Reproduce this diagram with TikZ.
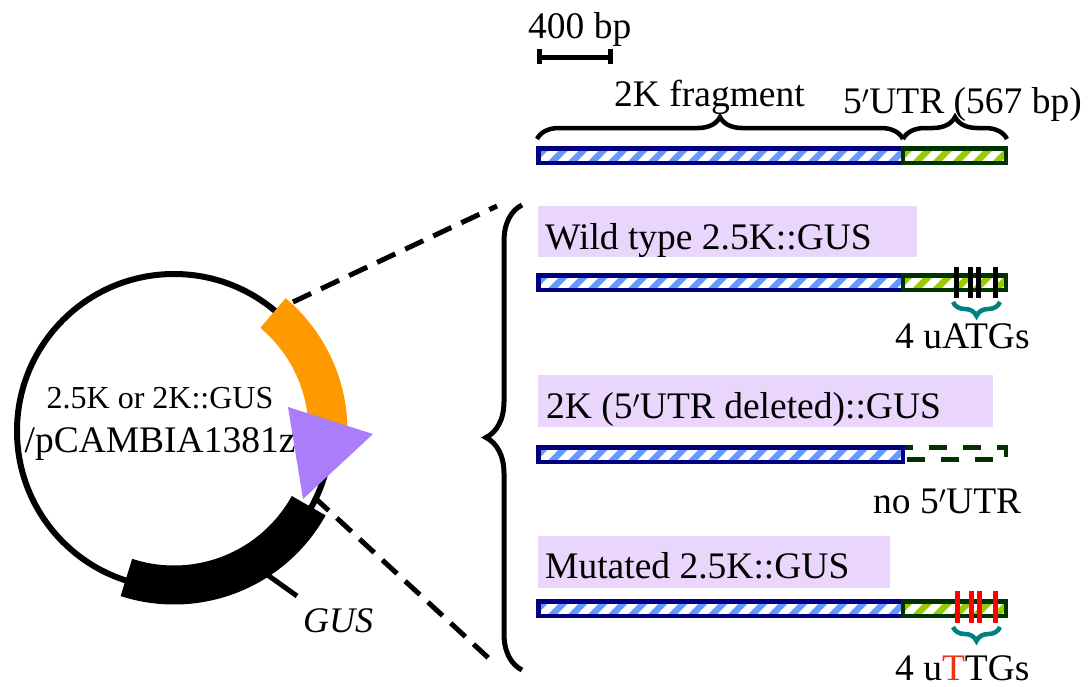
\documentclass[tikz,border=0pt]{standalone}
\usepackage{fontspec}
\setmainfont{Liberation Serif}
\usetikzlibrary{decorations.pathreplacing}

\definecolor{navyB}{RGB}{0,0,128}
\definecolor{stripeB}{RGB}{102,153,255}
\definecolor{darkG}{RGB}{0,51,0}
\definecolor{stripeG}{RGB}{153,204,0}
\definecolor{plasOrange}{RGB}{255,153,0}
\definecolor{plasPurple}{RGB}{170,125,250}
\definecolor{lavender}{RGB}{234,214,252}
\definecolor{braceTeal}{RGB}{0,128,128}
\definecolor{mutRed}{RGB}{255,0,0}
\definecolor{letterRed}{RGB}{240,50,20}

% prime mark used in 5'UTR
\newcommand{\fpr}{\ensuremath{'}}

% hatched segment: x1, x2, top y, bottom y, stripe colour, border colour
\newcommand{\hatchbar}[6]{%
  \begin{scope}
    \clip (#1,#3) rectangle (#2,#4);
    \foreach \k in {0,...,20}{
      \fill[#5] ({#1-12+20*\k},#4) -- ++(9,0)
        -- ({#1-12+20*\k+9+(#4-#3)},#3) -- ({#1-12+20*\k+(#4-#3)},#3) -- cycle;
    }
  \end{scope}
  \draw[#6, line width=4.5] (#1,#3) rectangle (#2,#4);
}

\tikzset{
  lbl/.style={inner sep=0pt, font=\fontsize{37.5}{42}\selectfont},
  smalllbl/.style={inner sep=0pt, font=\fontsize{32}{36}\selectfont},
  biglbl/.style={inner sep=0pt, font=\fontsize{37.5}{42}\selectfont},
  labelbox/.style={fill=lavender, draw=none},
  brc/.style={decorate, line width=4.5},
  tick/.style={line width=5},
  zoomline/.style={line width=5, dash pattern=on 20pt off 11pt},
}

\begin{document}
\begin{tikzpicture}[x=1pt,y=-1pt]
\useasboundingbox (0,0) rectangle (1091,686);

% ---------- scale bar ----------
\node[lbl, anchor=base west] (scaletxt) at (528,38) {400 bp};
\coordinate (sbL) at (538,57);
\coordinate (sbR) at (612,57);
\draw[tick] (sbL) -- (sbR);
\draw[tick] (539.5,49) -- (539.5,64);
\draw[tick] (610.5,49) -- (610.5,64);

% ---------- reference construct ----------
\hatchbar{538.5}{903}{148.25}{162.75}{stripeB}{navyB}
\hatchbar{903}{1006}{148.25}{162.75}{stripeG}{darkG}
\coordinate (fragL) at (537,139);
\coordinate (fragR) at (903,139);
\coordinate (utrR) at (1007,139);
\draw[brc, decoration={brace, amplitude=22pt}] (fragL) -- (fragR);
\draw[brc, decoration={brace, amplitude=22pt}] (fragR) -- (utrR);
\node[biglbl, anchor=base west] (fragtxt) at (614,106) {2K fragment};
\node[lbl, anchor=base west] (utrtxt) at (843,113) {5\fpr UTR (567 bp)};

% ---------- three constructs ----------
\fill[labelbox] (538,206) rectangle (917,257);
\node[lbl, anchor=base west] (wt) at (545,249) {Wild type 2.5K::GUS};
\fill[labelbox] (538,375) rectangle (993,427);
\node[lbl, anchor=base west] (del) at (546,418) {2K (5\fpr UTR deleted)::GUS};
\fill[labelbox] (538,536) rectangle (890,588);
\node[lbl, anchor=base west] (mut) at (545,578) {Mutated 2.5K::GUS};

% wild type
\hatchbar{538.5}{903}{275.25}{289.75}{stripeB}{navyB}
\hatchbar{903}{1006}{275.25}{289.75}{stripeG}{darkG}
\foreach \x in {956,970,978,995}{\draw[tick, black] (\x,267) -- (\x,298);}
\coordinate (atgR) at (1000,302);
\coordinate (atgL) at (953,302);
\draw[brc, braceTeal, decoration={brace, amplitude=14pt}] (atgR) -- (atgL);
\node[lbl, anchor=base west] (atgtxt) at (895,348) {4 uATGs};

% UTR deleted
\hatchbar{538.5}{903}{447.25}{461.75}{stripeB}{navyB}
\coordinate (delA) at (905,459.5);
\coordinate (delB) at (1006,459.5);
\coordinate (delC) at (1006,447.5);
\coordinate (delD) at (905,447.5);
\draw[darkG, line width=4.5, dash pattern=on 18pt off 16pt, dash phase=-2pt]
  (delA) -- (delB) -- (delC) -- (delD);
\node[lbl, anchor=base west] (notxt) at (873,513) {no 5\fpr UTR};

% mutated
\hatchbar{538.5}{903}{601.25}{615.75}{stripeB}{navyB}
\hatchbar{903}{1006}{601.25}{615.75}{stripeG}{darkG}
\foreach \x in {957,971,979,995}{\draw[tick, mutRed] (\x,591) -- (\x,623);}
\coordinate (ttgR) at (1000,627);
\coordinate (ttgL) at (953,627);
\draw[brc, braceTeal, decoration={brace, amplitude=14pt}] (ttgR) -- (ttgL);
\node[lbl, anchor=base west] (ttgtxt) at (895,680) {4 u\textcolor{letterRed}{T}TGs};

% big brace grouping the constructs
\coordinate (bbBot) at (522,670);
\coordinate (bbTop) at (522,205);
\draw[decorate, line width=5, decoration={brace, amplitude=36pt}] (bbBot) -- (bbTop);

% ---------- plasmid ----------
\coordinate (pc) at (174,431);
\draw[line width=6] (pc) circle[radius=157];
\draw[plasOrange, line width=39]
  plot[domain=-50:3, samples=60] ({174+154*cos(\x)}, {431+154*sin(\x)});
\draw[black, line width=39]
  plot[domain=29:108, samples=60] ({174+154*cos(\x)}, {431+154*sin(\x)});
\fill[plasPurple] (288,407) -- (373,434) -- (303,499) -- cycle;
\coordinate (gusA) at (262,571);
\coordinate (gusB) at (297,596);
\draw[line width=5] (gusA) -- (gusB);
\node[lbl, anchor=base west, font=\fontsize{36}{40}\selectfont\itshape] (gustxt) at (303,632) {GUS};
\node[smalllbl, anchor=base] (ptxt1) at (160,408) {2.5K or 2K::GUS};
\node[biglbl, anchor=base] (ptxt2) at (160,452) {/pCAMBIA1381z};

% zoom-out lines from the insert to the constructs
\coordinate (zTopA) at (293,302);
\coordinate (zTopB) at (497,206);
\coordinate (zBotA) at (314,497);
\coordinate (zBotB) at (495,664);
\draw[zoomline] (zTopA) -- (zTopB);
\draw[zoomline] (zBotA) -- (zBotB);
\end{tikzpicture}
\end{document}
